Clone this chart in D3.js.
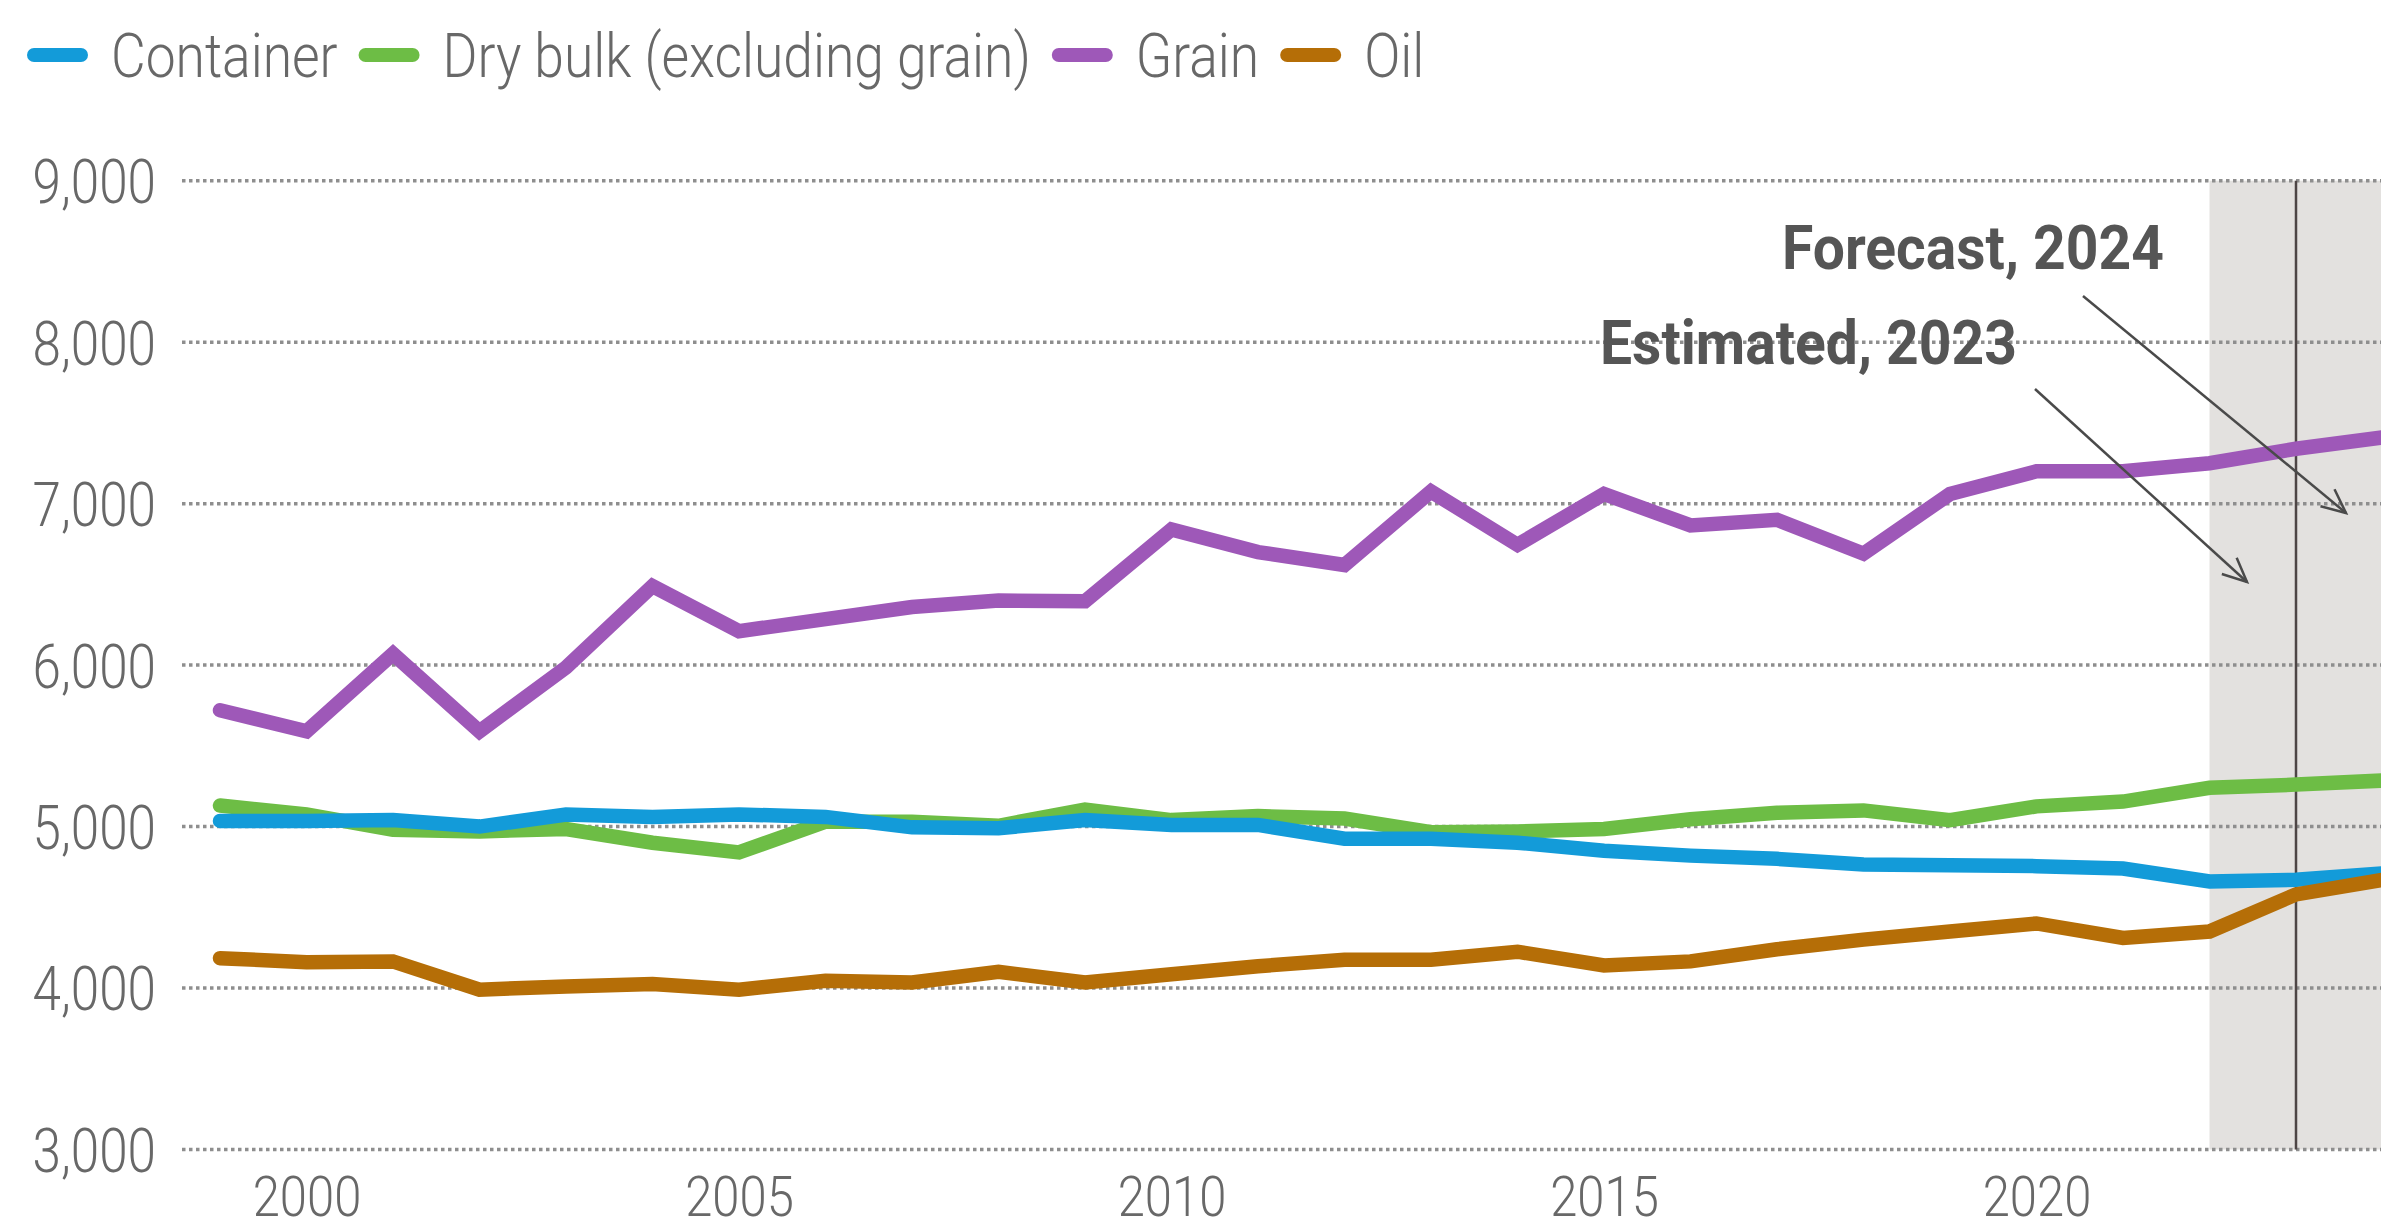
<!DOCTYPE html>
<html>
<head>
<meta charset="utf-8">
<script src="https://cdn.jsdelivr.net/npm/d3@7"></script>
<style>
  body { margin: 0; background: #fff; }
  svg { display: block; }
</style>
</head>
<body>
<div id="chart"></div>
<script>
// chart data
var years = [1999, 2000, 2001, 2002, 2003, 2004, 2005, 2006, 2007, 2008, 2009, 2010, 2011,
  2012, 2013, 2014, 2015, 2016, 2017, 2018, 2019, 2020, 2021, 2022, 2023, 2024];

var container = [5035, 5035, 5040, 5000, 5075, 5060, 5075, 5060, 4995, 4990, 5040, 5010, 5010,
  4925, 4925, 4900, 4850, 4820, 4800, 4765, 4760, 4755, 4740, 4660, 4670, 4710];
var dryBulk = [5130, 5075, 4980, 4970, 4985, 4900, 4840, 5030, 5030, 5005, 5105, 5040, 5065,
  5050, 4965, 4970, 4985, 5045, 5085, 5100, 5040, 5125, 5155, 5240, 5260, 5285];
var grain = [5720, 5590, 6070, 5590, 5985, 6490, 6210, 6285, 6360, 6400, 6395, 6840, 6700,
  6620, 7075, 6745, 7060, 6865, 6900, 6690, 7060, 7200, 7200, 7250, 7340, 7410];
var oil = [4185, 4160, 4165, 3990, 4010, 4025, 3990, 4045, 4035, 4100, 4035, 4085, 4135,
  4175, 4175, 4225, 4140, 4165, 4240, 4300, 4350, 4400, 4310, 4350, 4580, 4670];

var seriesNames = ["Container", "Dry bulk (excluding grain)", "Grain", "Oil"];
var seriesColors = ["#139bd9", "#6dbd45", "#9e58b8", "#b56e07"];

var yTicks = [3000, 4000, 5000, 6000, 7000, 8000, 9000];
var xTicks = [2000, 2005, 2010, 2015, 2020];

var estimateYear = 2022;
var forecastYear = 2023;

// svg size
var svgWidth = 2381;
var svgHeight = 1232;
var squeeze = 0.84; // fake a condensed face for tick labels

var svg = d3.select("#chart")
  .append("svg")
  .attr("width", svgWidth)
  .attr("height", svgHeight);

var defs = svg.append("defs");
defs.append("marker")
  .attr("id", "arrow")
  .attr("markerUnits", "userSpaceOnUse")
  .attr("markerWidth", 40)
  .attr("markerHeight", 40)
  .attr("viewBox", "-30 -20 40 40")
  .attr("refX", 0)
  .attr("refY", 0)
  .attr("orient", "auto")
  .append("path")
  .attr("d", "M-24,-11 L0,0 L-24,11")
  .attr("fill", "none")
  .attr("stroke", "#4a4a4a")
  .attr("stroke-width", 2.5);

// scales
var x = d3.scaleLinear()
  .domain([1999, 2023])
  .range([220, 2296]);

var y = d3.scaleLinear()
  .domain([3000, 9000])
  .range([1149.5, 180.7]);

// shaded estimate / forecast band
svg.append("rect")
  .attr("x", x(estimateYear))
  .attr("y", y(9000))
  .attr("width", svgWidth - x(estimateYear))
  .attr("height", y(3000) - y(9000))
  .attr("fill", "#e3e1df");

// dotted gridlines
svg.append("g")
  .selectAll("line")
  .data(yTicks)
  .enter()
  .append("line")
  .attr("x1", 182)
  .attr("x2", svgWidth)
  .attr("y1", d => y(d))
  .attr("y2", d => y(d))
  .attr("stroke", "#8e8e8e")
  .attr("stroke-width", 3.5)
  .attr("stroke-dasharray", "3.5,3.5");

// forecast divider
svg.append("line")
  .attr("x1", x(forecastYear))
  .attr("x2", x(forecastYear))
  .attr("y1", y(9000))
  .attr("y2", y(3000))
  .attr("stroke", "#4d4545")
  .attr("stroke-width", 2.5);

// y axis labels
var yAxis = svg.append("g")
  .attr("transform", "translate(156, 0)")
  .call(d3.axisLeft(y).tickValues(yTicks).tickSize(0).tickPadding(0).tickFormat(d3.format(",")));
yAxis.select(".domain").remove();
yAxis.selectAll("text")
  .attr("font-family", "Roboto, sans-serif")
  .attr("font-weight", 300)
  .attr("font-size", 61)
  .attr("fill", "#686868")
  .attr("dy", "0.36em")
  .attr("transform", `scale(${squeeze},1)`);

// x axis labels (kept just inside the bottom edge)
var xAxis = svg.append("g")
  .attr("transform", "translate(0, 1177)")
  .call(d3.axisBottom(x).tickValues(xTicks).tickSize(0).tickPadding(0).tickFormat(d3.format("d")));
xAxis.select(".domain").remove();
xAxis.selectAll("text")
  .attr("font-family", "Roboto, sans-serif")
  .attr("font-weight", 300)
  .attr("font-size", 55)
  .attr("fill", "#686868")
  .attr("transform", "scale(0.89,1)");

// lines
var allSeries = [container, dryBulk, grain, oil];
var drawOrder = [2, 1, 0, 3];

var line = d3.line()
  .x((d, i) => x(years[i]))
  .y(d => y(d));

svg.append("g")
  .selectAll("path")
  .data(drawOrder)
  .enter()
  .append("path")
  .attr("d", k => line(allSeries[k]))
  .attr("fill", "none")
  .attr("stroke", k => seriesColors[k])
  .attr("stroke-width", 14.5)
  .attr("stroke-linejoin", "miter")
  .attr("stroke-linecap", "round");

// annotations
function note(label, tx, ty, from, to) {
  svg.append("text")
    .attr("transform", `translate(${tx}, ${ty}) scale(0.92,1)`)
    .attr("text-anchor", "end")
    .attr("font-family", "Roboto, sans-serif")
    .attr("font-weight", 700)
    .attr("font-size", 62)
    .attr("fill", "#555555")
    .text(label);
  svg.append("line")
    .attr("x1", from[0])
    .attr("y1", from[1])
    .attr("x2", to[0])
    .attr("y2", to[1])
    .attr("stroke", "#4a4a4a")
    .attr("stroke-width", 2.5)
    .attr("marker-end", "url(#arrow)");
}
note("Forecast, 2024", 2164, 269, [2083, 296], [2346, 513]);
note("Estimated, 2023", 2017, 364, [2035, 389], [2247, 582]);

// legend
var legend = svg.append("g").attr("transform", "translate(27, 55)");
var lx = 0;
seriesNames.forEach(function(name, i) {
  legend.append("rect")
    .attr("x", lx)
    .attr("y", -7)
    .attr("width", 61)
    .attr("height", 14)
    .attr("rx", 7)
    .attr("fill", seriesColors[i]);
  var t = legend.append("text")
    .attr("transform", `translate(${lx + 84}, 0) scale(0.875,1)`)
    .attr("dy", "0.36em")
    .attr("font-family", "Roboto, sans-serif")
    .attr("font-weight", 300)
    .attr("font-size", 61)
    .attr("fill", "#686868")
    .text(name);
  lx += 84 + t.node().getComputedTextLength() * 0.875 + 21;
});
</script>
</body>
</html>
